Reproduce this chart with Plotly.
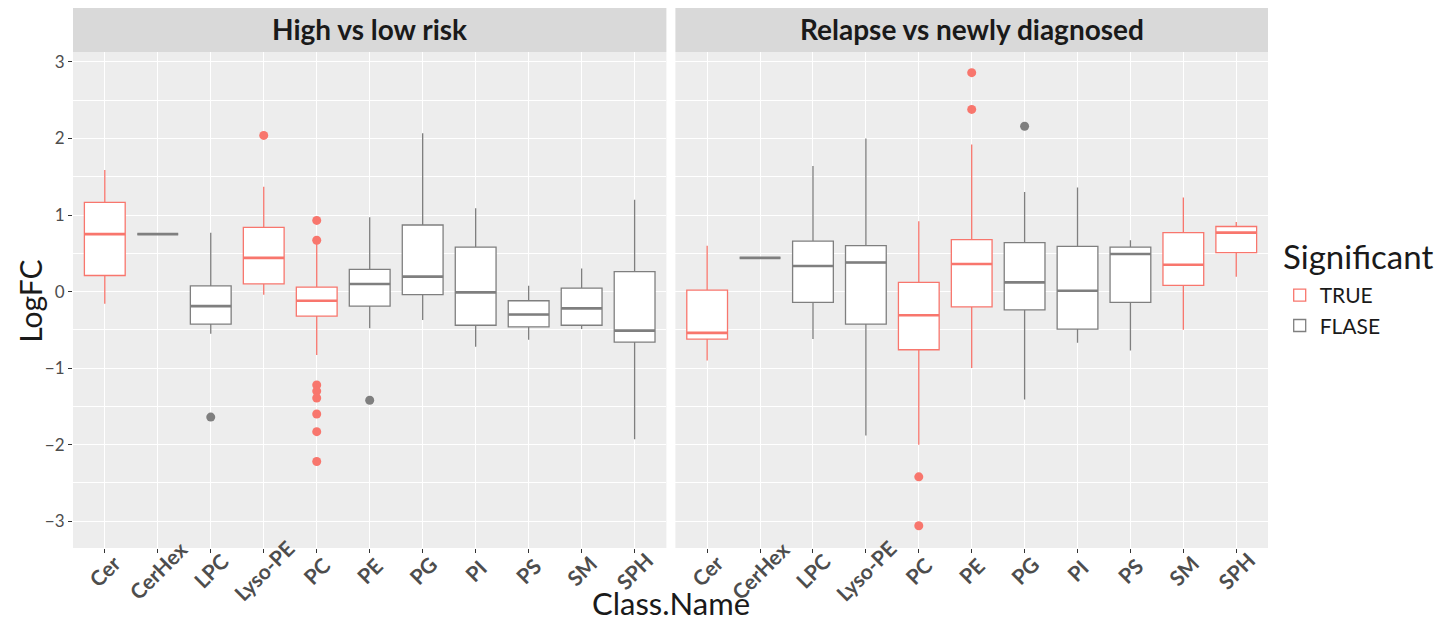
import plotly.graph_objects as go

categories = ["Cer", "CerHex", "LPC", "Lyso-PE", "PC", "PE", "PG", "PI", "PS", "SM", "SPH"]
panels = ["High vs low risk", "Relapse vs newly diagnosed"]
y_ticks = [-3, -2, -1, 0, 1, 2, 3]

# ---- Panel 1: High vs low risk ----
hl_significant = [True, False, False, True, True, False, False, False, False, False, False]
hl_lower = [-0.16, 0.75, -0.55, -0.04, -0.83, -0.48, -0.37, -0.72, -0.63, -0.49, -1.93]
hl_q1 = [0.21, 0.75, -0.425, 0.10, -0.32, -0.19, -0.04, -0.44, -0.46, -0.44, -0.66]
hl_median = [0.75, 0.75, -0.19, 0.44, -0.12, 0.10, 0.195, -0.01, -0.30, -0.22, -0.51]
hl_q3 = [1.165, 0.75, 0.075, 0.84, 0.057, 0.29, 0.87, 0.58, -0.12, 0.044, 0.26]
hl_upper = [1.59, 0.75, 0.77, 1.37, 0.64, 0.97, 2.07, 1.09, 0.075, 0.30, 1.20]
hl_outliers = {"LPC": [-1.64], "Lyso-PE": [2.04],
               "PC": [0.93, 0.67, -1.22, -1.30, -1.39, -1.60, -1.83, -2.22],
               "PE": [-1.42]}

# ---- Panel 2: Relapse vs newly diagnosed ----
rn_significant = [True, False, False, False, True, True, False, False, False, True, True]
rn_lower = [-0.90, 0.44, -0.62, -1.88, -2.00, -1.00, -1.41, -0.67, -0.77, -0.50, 0.195]
rn_q1 = [-0.62, 0.44, -0.14, -0.425, -0.76, -0.20, -0.24, -0.49, -0.14, 0.08, 0.51]
rn_median = [-0.54, 0.44, 0.335, 0.38, -0.31, 0.36, 0.12, 0.01, 0.49, 0.35, 0.77]
rn_q3 = [0.02, 0.44, 0.66, 0.60, 0.12, 0.68, 0.64, 0.59, 0.58, 0.77, 0.85]
rn_upper = [0.60, 0.44, 1.64, 2.00, 0.92, 1.92, 1.30, 1.36, 0.67, 1.23, 0.91]
rn_outliers = {"PC": [-2.42, -3.06], "PE": [2.86, 2.38], "PG": [2.16]}

COL_TRUE = "#F8766D"
COL_FALSE = "#7F7F7F"
BOX_W = 0.77
FONT = "Lato"
TXT = "#1A1A1A"
TICKTXT = "#4D4D4D"

# page has an 8px body margin; size the figure to fill the 1453x630 window
OFF = 8
W, H = 1453 - 2 * OFF, 630 - 2 * OFF
L = 73.3 - OFF
T = 51.7 - OFF
R = W - (1268.3 - OFF)
B = H - (548.3 - OFF)
pw = W - L - R
ph = H - T - B


def px_x(x):
    return (x - OFF - L) / pw


def px_y(y):
    return (H - B - (y - OFF)) / ph


fig = go.Figure()

panel_data = [
    (hl_significant, hl_lower, hl_q1, hl_median, hl_q3, hl_upper, hl_outliers, "x", "y"),
    (rn_significant, rn_lower, rn_q1, rn_median, rn_q3, rn_upper, rn_outliers, "x2", "y2"),
]

for pi, (sig, lo, q1, med, q3, up, outl, xa, ya) in enumerate(panel_data):
    sig_map = dict(zip(categories, sig))
    for flag, col, name in [(True, COL_TRUE, "TRUE"), (False, COL_FALSE, "FLASE")]:
        idx = [i for i, s in enumerate(sig) if s == flag]
        pos = [i + 1 for i in idx]
        fig.add_trace(go.Box(
            x=pos, q1=[q1[i] for i in idx], median=[med[i] for i in idx],
            q3=[q3[i] for i in idx], lowerfence=[lo[i] for i in idx],
            upperfence=[up[i] for i in idx],
            width=BOX_W, whiskerwidth=0, fillcolor="white",
            line=dict(color=col, width=1.3), boxpoints=False,
            name=name, legendgroup=name, showlegend=(pi == 0),
            xaxis=xa, yaxis=ya, orientation="v",
        ))
        # thicker median lines (ggplot style)
        mx, my = [], []
        for i in idx:
            mx += [i + 1 - BOX_W / 2, i + 1 + BOX_W / 2, None]
            my += [med[i], med[i], None]
        fig.add_trace(go.Scatter(x=mx, y=my, mode="lines",
                                 line=dict(color=col, width=2.6),
                                 showlegend=False, hoverinfo="skip",
                                 xaxis=xa, yaxis=ya))
        # outliers
        ox, oy = [], []
        for cat, vals in outl.items():
            if sig_map[cat] == flag:
                p = categories.index(cat) + 1
                ox += [p] * len(vals)
                oy += vals
        if ox:
            fig.add_trace(go.Scatter(x=ox, y=oy, mode="markers",
                                     marker=dict(color=col, size=9),
                                     showlegend=False, xaxis=xa, yaxis=ya))

d1 = px_x(666.7)
d2 = px_x(675.7)

xcommon = dict(range=[0.4, 11.6], tickvals=list(range(1, 12)), showticklabels=False,
               ticks="outside", ticklen=4, tickcolor="#333333",
               showgrid=True, gridcolor="white", gridwidth=1.3,
               zeroline=False, showline=False, fixedrange=True)
ycommon = dict(range=[-3.35, 3.13], tickvals=y_ticks, ticks="outside", ticklen=4,
               tickcolor="#333333",
               showgrid=True, gridcolor="white", gridwidth=1.3,
               minor=dict(tickvals=[-3.5, -2.5, -1.5, -0.5, 0.5, 1.5, 2.5],
                          showgrid=True, gridcolor="white", gridwidth=0.6, ticks=""),
               zeroline=False, showline=False)

fig.update_layout(
    width=W, height=H,
    margin=dict(l=L, r=R, t=T, b=B, autoexpand=False),
    paper_bgcolor="white", plot_bgcolor="#EDEDED",
    boxmode="overlay",
    xaxis=dict(domain=[0, d1], **xcommon),
    xaxis2=dict(domain=[d2, 1], anchor="y2", **xcommon),
    yaxis=dict(domain=[0, 1], tickfont=dict(family=FONT, size=17, color=TICKTXT), **ycommon),
    yaxis2=dict(domain=[0, 1], anchor="x2", matches="y", showticklabels=False,
                **{k: v for k, v in ycommon.items() if k != "ticks"}, ticks=""),
    legend=dict(x=px_x(1280), y=px_y(275), xanchor="left", yanchor="top",
                font=dict(family=FONT, size=21, color=TXT),
                bgcolor="rgba(0,0,0,0)", tracegroupgap=0),
    font=dict(family=FONT),
    showlegend=True,
)

# legend title
fig.add_annotation(xref="paper", yref="paper", x=px_x(1281), y=px_y(256), text="Significant",
                   showarrow=False, xanchor="left", yanchor="middle",
                   font=dict(family=FONT, size=33, color=TXT))

# rotated category labels, centred under each tick (as in the reference)
for xa in ["x", "x2"]:
    for i, cat in enumerate(categories):
        fig.add_annotation(xref=xa, yref="paper", x=i + 1, y=px_y(571), text=cat,
                           textangle=-45, showarrow=False, xanchor="center", yanchor="middle",
                           font=dict(family=FONT, size=21, color=TICKTXT, weight="bold"))

# facet strips
for xr, title in [("x domain", panels[0]), ("x2 domain", panels[1])]:
    fig.add_shape(type="rect", xref=xr, yref="paper", x0=0, x1=1, y0=1.0, y1=px_y(7),
                  fillcolor="#D9D9D9", line=dict(width=0), layer="below")
    fig.add_annotation(xref=xr, yref="paper", x=0.5, y=px_y(29), text=title,
                       showarrow=False, yanchor="middle",
                       font=dict(family=FONT, size=28, color=TXT, weight="bold"))

# axis titles
fig.add_annotation(xref="paper", yref="paper", x=px_x(30), y=px_y(301), text="LogFC",
                   textangle=-90, showarrow=False, xanchor="center", yanchor="middle",
                   font=dict(family=FONT, size=30, color=TXT))
fig.add_annotation(xref="paper", yref="paper", x=px_x(671), y=px_y(603),
                   text="Class.Name", showarrow=False, xanchor="center", yanchor="middle",
                   font=dict(family=FONT, size=31, color=TXT))

fig.write_html("out.html")
